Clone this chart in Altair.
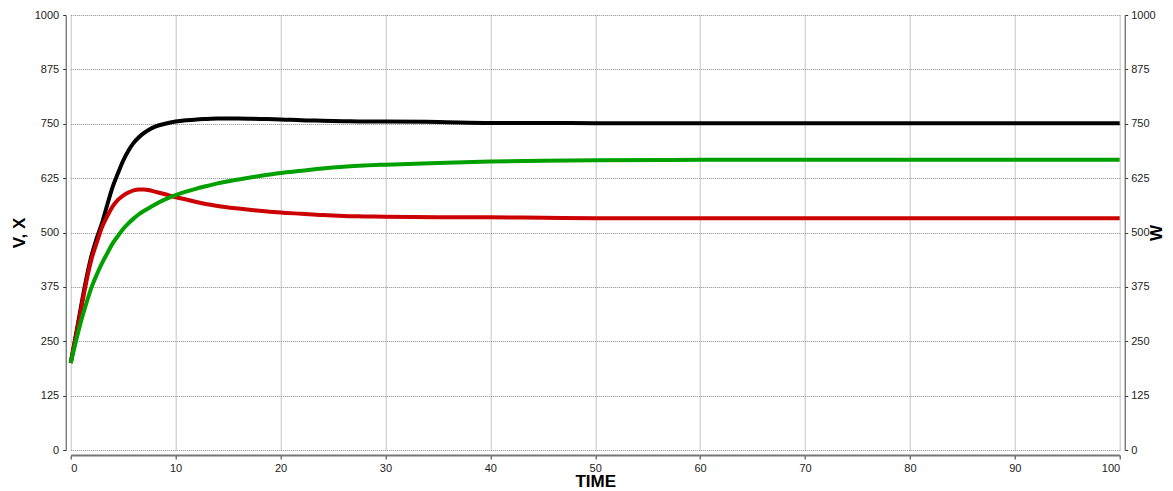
import altair as alt
import pandas as pd

# time points
t = [0, 0.5, 1, 1.5, 2, 2.5, 3, 3.5, 4, 4.5, 5, 5.5, 6, 6.5, 7, 7.5, 8, 9, 10, 11, 12, 13, 14,
     16, 18, 20, 22, 24, 26, 28, 30, 35, 40, 45, 50, 60, 70, 80, 90, 100]
# black series (left axis)
v_vals = [200, 265, 332, 395, 448, 488, 523, 565, 605, 636, 665, 688, 706, 719, 729, 737, 743, 750, 755, 758, 760, 761, 762,
          762, 761, 760, 758, 757, 756, 755, 755, 754, 752, 752, 751, 751, 751, 751, 751, 751]
# red series (left axis)
x_vals = [200, 262, 325, 388, 440, 478, 513, 538, 560, 575, 585, 592, 597, 599, 599, 597, 594, 588, 581, 576, 570, 565, 561,
          555, 550, 546, 543, 540, 538, 537, 536, 535, 535, 534, 533, 533, 533, 533, 533, 533]
# green series (right axis)
w_vals = [200, 250, 297, 338, 375, 404, 430, 453, 475, 492, 508, 521, 532, 542, 550, 557, 564, 576, 586, 594, 601, 607, 613,
          622, 630, 637, 642, 647, 651, 654, 656, 660, 663, 665, 666, 667, 667, 667, 667, 667]

x_ticks = [0, 10, 20, 30, 40, 50, 60, 70, 80, 90, 100]
y_ticks = [0, 125, 250, 375, 500, 625, 750, 875, 1000]

df = pd.DataFrame({"t": t, "V": v_vals, "X": x_vals, "W": w_vals})

LABEL_FONT = "Liberation Sans Narrow, Liberation Sans, Arial, sans-serif"
TITLE_FONT = "Liberation Sans, Arial, sans-serif"

x_enc = alt.X(
    "t:Q",
    scale=alt.Scale(domain=[0, 100], nice=False, zero=False),
    axis=alt.Axis(
        title="TIME", values=x_ticks, offset=5, tickSize=4, labelPadding=3,
        grid=True, domainColor="#777777", domainWidth=2,
        tickColor="#333333", format="d",
        titleBaseline="middle", titleY=26,
    ),
)

y_scale = alt.Scale(domain=[0, 1000], nice=False)

black = alt.Chart(df).mark_line(color="#000000", strokeWidth=4, interpolate="monotone").encode(
    x=x_enc,
    y=alt.Y(
        "V:Q", scale=y_scale,
        axis=alt.Axis(
            title="V, X", orient="left", values=y_ticks, offset=5, tickSize=3,
            labelPadding=4, grid=True, domainColor="#444444", format="d",
            tickColor="#333333", titleAngle=270, titleBaseline="middle",
            titleX=-46,
        ),
    ),
)
red = alt.Chart(df).mark_line(color="#cc0000", strokeWidth=4, interpolate="monotone").encode(
    x="t:Q", y=alt.Y("X:Q", scale=y_scale)
)
left = alt.layer(black, red)

green = alt.Chart(df).mark_line(color="#00a000", strokeWidth=4, interpolate="monotone").encode(
    x="t:Q",
    y=alt.Y(
        "W:Q", scale=y_scale,
        axis=alt.Axis(
            title="W", orient="right", values=y_ticks, offset=5, tickSize=3,
            labelPadding=3, grid=False, domainColor="#444444", format="d",
            tickColor="#333333", titleAngle=270, titleBaseline="alphabetic",
            titleX=36.5,
        ),
    ),
)

chart = (
    alt.layer(left, green)
    .resolve_scale(y="independent")
    .properties(
        width=1049,
        height=435,
        autosize=alt.AutoSizeParams(type="none"),
        padding={"left": 62.7, "top": 7, "right": 45.3, "bottom": 41},
    )
    .configure_view(stroke=None)
    .configure_axis(
        labelFont=LABEL_FONT, labelFontSize=11, labelColor="#222222",
        titleFont=TITLE_FONT, titleFontSize=17, titleFontWeight="bold",
        titleColor="#000000", gridColor="#8a8a8a", gridDash=[1, 1],
        gridWidth=1, gridOpacity=1, domainWidth=1,
    )
)

chart.save("out.html", embed_options={"renderer": "svg", "actions": False})
